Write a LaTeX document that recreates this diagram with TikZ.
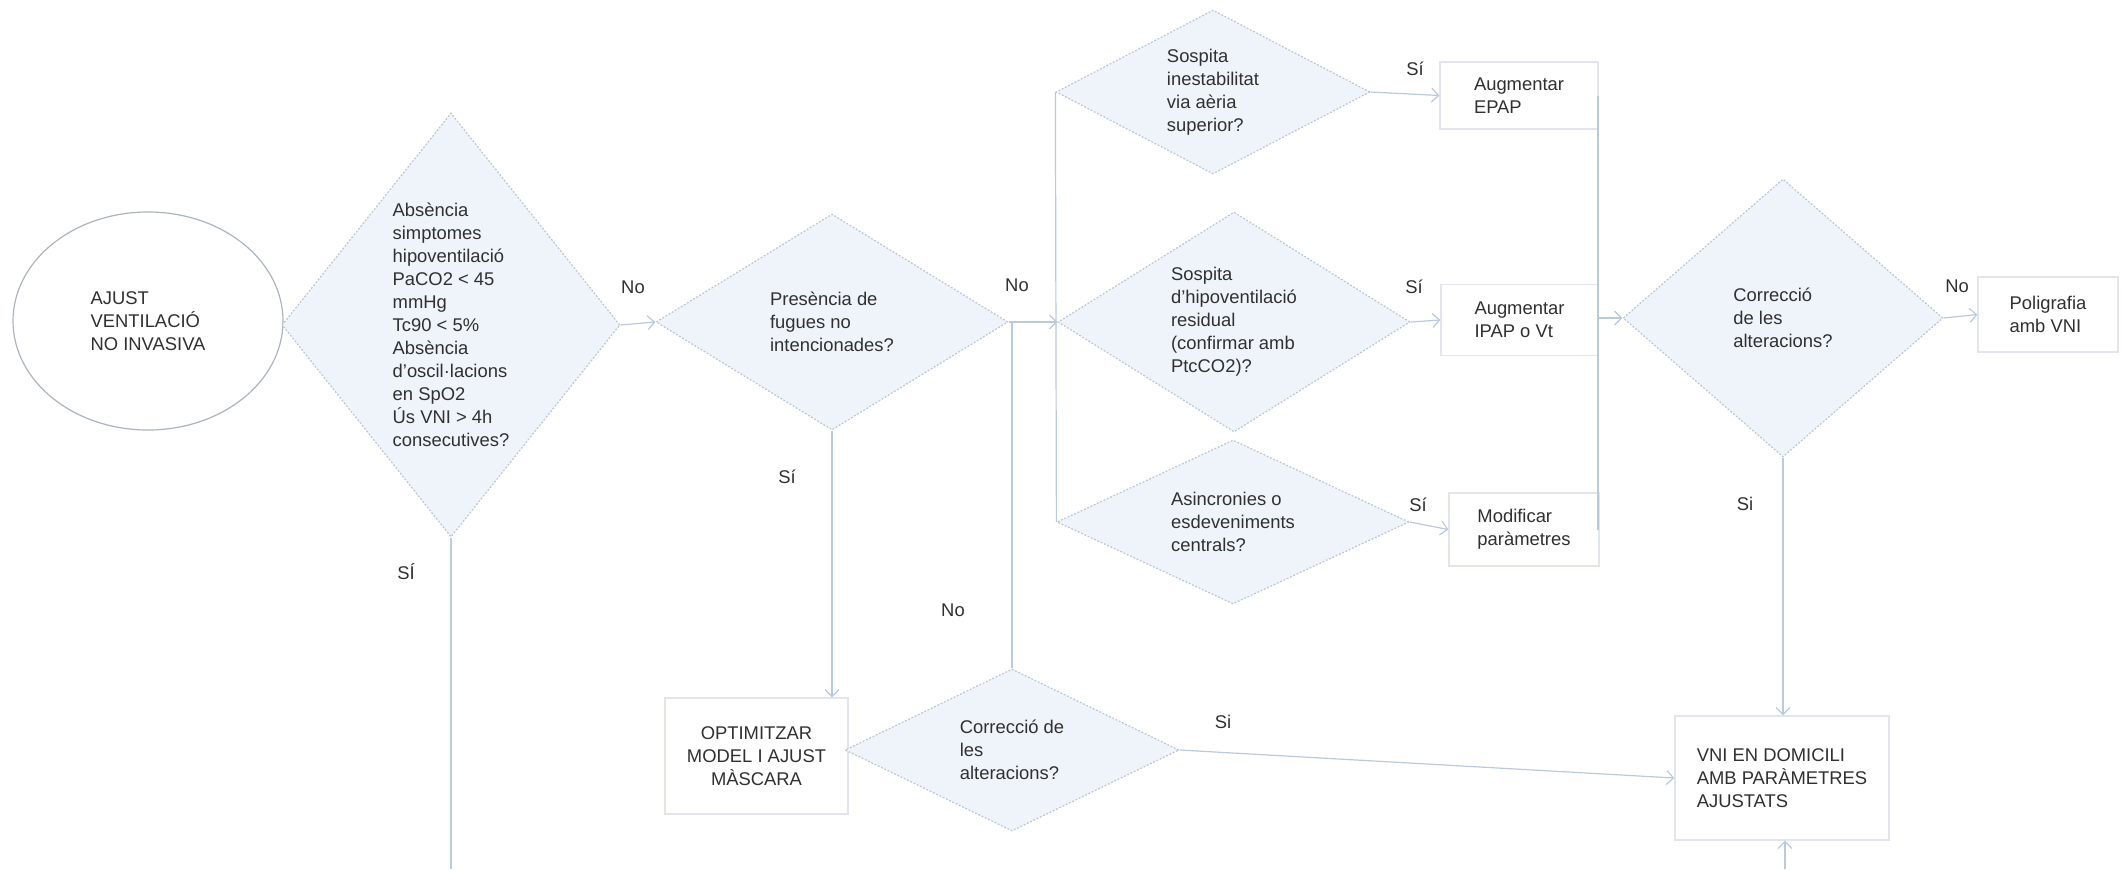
\documentclass[tikz,border=0pt]{standalone}
\usepackage{fontspec}
\setmainfont{Liberation Sans}
\usetikzlibrary{shapes.geometric,arrows.meta}
\definecolor{dfill}{RGB}{239,244,250}
\definecolor{dedge}{RGB}{186,197,210}
\definecolor{bedge}{RGB}{226,230,236}
\definecolor{eedge}{RGB}{172,180,190}
\definecolor{wire}{RGB}{186,202,220}
\definecolor{ink}{RGB}{48,48,48}
\begin{document}
\begin{tikzpicture}[x=0.5pt,y=-0.5pt,
  every node/.style={text=ink,font=\fontsize{9.2}{11.5}\selectfont},
  decision/.style={diamond,draw=dedge,fill=dfill,dash pattern=on 0.9pt off 0.9pt,line width=0.6pt,inner sep=0pt},
  qtext/.style={align=left,inner sep=0pt},
  actbox/.style={draw=bedge,fill=white,line width=0.6pt,align=left,inner sep=0pt},
  wireline/.style={draw=wire,line width=0.6pt},
  flow/.style={wireline,-{Straight Barb[length=3.5pt,width=7pt]}},
  tag/.style={inner sep=0pt}
]
\useasboundingbox (0,0) rectangle (2122,869);

% start
\node[ellipse,draw=eedge,fill=white,line width=0.6pt,minimum width=135pt,minimum height=109pt,align=left,inner sep=0pt]
  (start) at (148,321) {AJUST\\VENTILACIÓ\\NO INVASIVA};

% first check
\node[decision,minimum width=169pt,minimum height=212pt] (d1) at (451,325) {};
\node[qtext] (d1t) at (d1.center) {Absència\\simptomes\\hipoventilació\\PaCO2 < 45\\mmHg\\Tc90 < 5\%\\Absència\\d'oscil·lacions\\en SpO2\\Ús VNI > 4h\\consecutives?};

% leaks
\node[decision,minimum width=176pt,minimum height=108pt] (d2) at (832,322) {};
\node[qtext] (d2t) at (d2.center) {Presència de\\fugues no\\intencionades?};

% three suspicions
\node[decision,minimum width=157pt,minimum height=82pt] (da) at (1213,92) {};
\node[qtext] (dat) at (da.center) {Sospita\\inestabilitat\\via aèria\\superior?};
\node[decision,minimum width=176pt,minimum height=110pt] (db) at (1234,322) {};
\node[qtext] (dbt) at (db.center) {Sospita\\d'hipoventilació\\residual\\(confirmar amb\\PtcCO2)?};
\node[decision,minimum width=176pt,minimum height=82pt] (dc) at (1233,522) {};
\node[qtext] (dct) at (dc.center) {Asincronies o\\esdeveniments\\centrals?};

% actions
\node[actbox,minimum width=79pt,minimum height=33.5pt] (epap) at (1519,95.5) {Augmentar\\EPAP};
\node[actbox,minimum width=78.5pt,minimum height=35.5pt] (ipap) at (1519.5,320) {Augmentar\\IPAP o Vt};
\node[actbox,minimum width=75pt,minimum height=36.5pt] (modif) at (1524,529.5) {Modificar\\paràmetres};

% re-check after adjustments
\node[decision,minimum width=160pt,minimum height=139pt] (dd) at (1783,318) {};
\node[qtext] (ddt) at (dd.center) {Correcció\\de les\\alteracions?};
\node[actbox,minimum width=70pt,minimum height=37.5pt] (poli) at (2048,314.5) {Poligrafia\\amb VNI};

% mask
\node[actbox,align=center,minimum width=91.5pt,minimum height=58pt] (opt) at (756.5,756) {OPTIMITZAR\\MODEL I AJUST\\MÀSCARA};
\node[decision,minimum width=167pt,minimum height=81pt] (d3) at (1012,750) {};
\node[qtext] (d3t) at (d3.center) {Correcció de\\les\\alteracions?};

% home
\node[actbox,minimum width=107pt,minimum height=62pt] (vni) at (1782,778) {VNI EN DOMICILI\\AMB PARÀMETRES\\AJUSTATS};

% free ends and junctions
\coordinate (d1low) at (451,869);
\coordinate (vnilow) at (1785,869);
\coordinate (joinA) at (1012,322);
\coordinate (railtop) at (1598,95.5);
\coordinate (railbot) at (1598,529.5);

% connectors
\draw[flow] (d1.east) -- (d2.west);
\draw[wireline] (d1.south) -- (d1low);
\draw[flow] (d2.south) -- (d2.south |- opt.north);
\draw[flow] (d2.east) -- (db.west);
\draw[wireline] (da.west) -- (dc.west);
\draw[wireline] (d3.north) -- (joinA);
\draw[flow] (da.east) -- (epap.west);
\draw[flow] (db.east) -- (ipap.west);
\draw[flow] (dc.east) -- (modif.west);
\draw[wireline] (railtop) -- (railbot);
\draw[flow] (ipap.east |- dd.west) -- (dd.west);
\draw[flow] (dd.east) -- (poli.west);
\draw[flow] (dd.south) -- (dd.south |- vni.north);
\draw[flow] (d3.east) -- (vni.west);
\draw[flow] (vnilow) -- (vnilow |- vni.south);

% branch labels
\node[tag] (l1) at (633,287) {No};
\node[tag] (l2) at (406,572) {SÍ};
\node[tag] (l3) at (1017,285) {No};
\node[tag] (l4) at (787,477) {Sí};
\node[tag] (l5) at (953,610) {No};
\node[tag] (l6) at (1415,69) {Sí};
\node[tag] (l7) at (1414,287) {Sí};
\node[tag] (l8) at (1418,505) {Sí};
\node[tag] (l9) at (1957,286) {No};
\node[tag] (l10) at (1745,504) {Si};
\node[tag] (l11) at (1223,722) {Si};
\end{tikzpicture}
\end{document}
